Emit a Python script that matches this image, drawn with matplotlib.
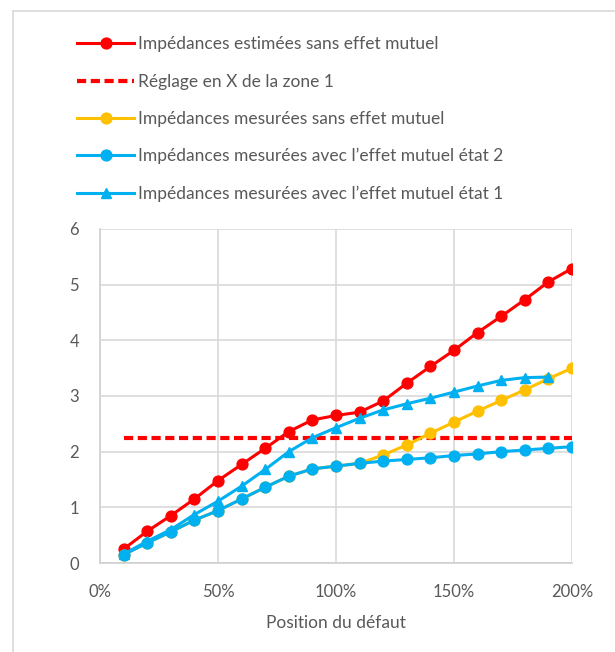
import numpy as np
import matplotlib.pyplot as plt
from matplotlib.ticker import PercentFormatter, MultipleLocator
from matplotlib.lines import Line2D

plt.rcParams['font.family'] = ['Lato', 'DejaVu Sans']

# position du défaut (fraction de la ligne protégée)
position = np.arange(1, 21) / 10

z_estimee = [0.25, 0.57, 0.85, 1.15, 1.48, 1.77, 2.06, 2.36, 2.57, 2.65,
             2.71, 2.91, 3.23, 3.53, 3.82, 4.14, 4.43, 4.73, 5.05, 5.29]
reglage_zone1 = 2.25
z_sans_mutuel = [0.15, 0.36, 0.56, 0.77, 0.94, 1.15, 1.36, 1.56, 1.69, 1.74,
                 1.79, 1.94, 2.12, 2.33, 2.53, 2.73, 2.92, 3.11, 3.31, 3.50]
z_etat2 = [0.15, 0.36, 0.56, 0.77, 0.94, 1.15, 1.36, 1.56, 1.69, 1.74,
           1.79, 1.83, 1.86, 1.89, 1.93, 1.96, 2.00, 2.03, 2.06, 2.09]
z_etat1 = [0.16, 0.39, 0.60, 0.87, 1.11, 1.38, 1.68, 2.00, 2.25, 2.43,
           2.60, 2.75, 2.86, 2.96, 3.07, 3.18, 3.28, 3.33, 3.34]

labels = ['Impédances estimées sans effet mutuel',
          'Réglage en X de la zone 1',
          'Impédances mesurées sans effet mutuel',
          'Impédances mesurées avec l\u2019effet mutuel état 2',
          'Impédances mesurées avec l\u2019effet mutuel état 1']

rouge = '#FF0000'
orange = '#FFC000'
bleu = '#00B0F0'
gris = '#595959'

fig = plt.figure(figsize=(6.15, 6.52), dpi=100)
ax = fig.add_axes([0.1626, 0.1365, 0.7674, 0.5123])

lw = 2.2
ms = 7.8
ax.plot(position, z_estimee, color=rouge, lw=lw, marker='o', ms=ms, zorder=3)
ax.plot([position[0], position[-1]], [reglage_zone1] * 2, color=rouge, lw=3,
        ls=(0, (2.2, 1.1)), zorder=3)
ax.plot(position, z_sans_mutuel, color=orange, lw=lw, marker='o', ms=ms, zorder=4)
ax.plot(position, z_etat2, color=bleu, lw=lw, marker='o', ms=ms, zorder=5)
ax.plot(position[:len(z_etat1)], z_etat1, color=bleu, lw=lw, marker='^', ms=ms, zorder=6)

ax.set_xlim(0, 2)
ax.set_ylim(0, 6)
ax.xaxis.set_major_locator(MultipleLocator(0.5))
ax.xaxis.set_major_formatter(PercentFormatter(xmax=1, decimals=0))
ax.yaxis.set_major_locator(MultipleLocator(1))
ax.grid(True, color='#D9D9D9', lw=1.2)
ax.set_axisbelow(True)
for side in ['top', 'right']:
    ax.spines[side].set_visible(False)
for side in ['left', 'bottom']:
    ax.spines[side].set_color('#D0D0D0')
    ax.spines[side].set_linewidth(1.2)
ax.tick_params(length=0, labelsize=12, labelcolor=gris)
ax.tick_params(axis='x', pad=15)
ax.tick_params(axis='y', pad=15)
ax.set_xlabel('Position du défaut', fontsize=12.5, color=gris, labelpad=11)

handles = [
    Line2D([], [], color=rouge, lw=lw, marker='o', ms=ms),
    Line2D([], [], color=rouge, lw=3, ls=(0, (2.2, 1.1))),
    Line2D([], [], color=orange, lw=lw, marker='o', ms=ms),
    Line2D([], [], color=bleu, lw=lw, marker='o', ms=ms),
    Line2D([], [], color=bleu, lw=lw, marker='^', ms=ms),
]
leg = fig.legend(handles, labels, loc='upper left', bbox_to_anchor=(0.10, 0.968),
                 frameon=False, fontsize=12.5, handlelength=3.3, handletextpad=0.2,
                 labelspacing=1.22, markerscale=1.0)
for t in leg.get_texts():
    t.set_color(gris)

# cadre gris du graphique
fig.add_artist(Line2D([13 / 615, 13 / 615], [0, 1 - 11 / 652], transform=fig.transFigure,
                      color='#D9D9D9', lw=1.2))
fig.add_artist(Line2D([13 / 615, 1], [1 - 11 / 652, 1 - 11 / 652], transform=fig.transFigure,
                      color='#D9D9D9', lw=1.2))

fig.savefig('out.png', dpi=100)
